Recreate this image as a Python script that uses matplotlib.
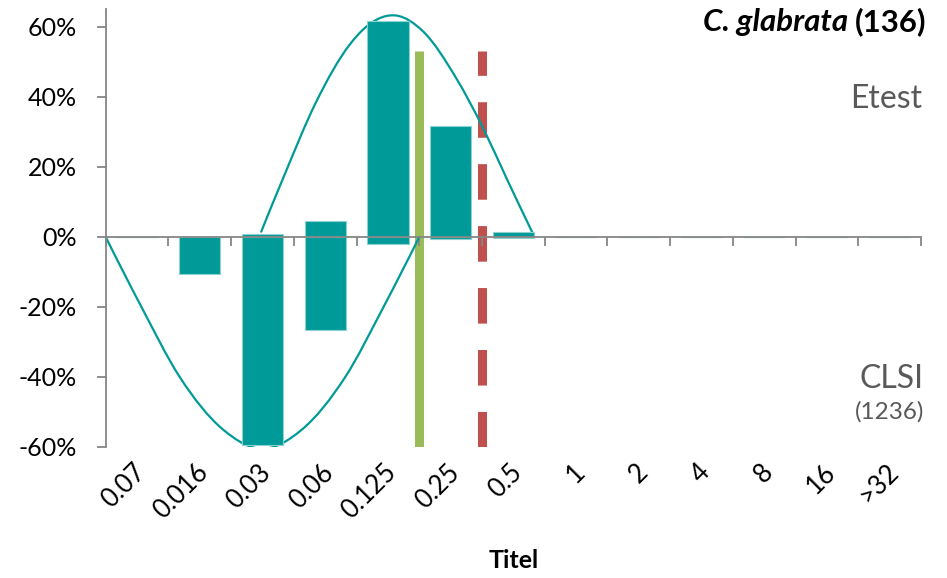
import numpy as np
import matplotlib
matplotlib.use("Agg")
import matplotlib.pyplot as plt
import matplotlib.transforms as mtransforms
from matplotlib.path import Path
from matplotlib.patches import PathPatch
from matplotlib.ticker import FuncFormatter

plt.rcParams['font.family'] = ['Lato', 'DejaVu Sans']
plt.rcParams['lines.scale_dashes'] = False

# MIC classes (mg/L) and percentage of isolates per class
categories = ['0.07', '0.016', '0.03', '0.06', '0.125', '0.25', '0.5',
              '1', '2', '4', '8', '16', '>32']
etest_pct = [0, 0, 0.7, 4.4, 61.8, 31.6, 1.5, 0, 0, 0, 0, 0, 0]
clsi_pct = [0, 10.7, 59.4, 26.7, 2.1, 0.7, 0.4, 0, 0, 0, 0, 0, 0]

# knots of the smoothed distribution outlines (category position, %)
etest_curve_x = [1.98, 2.33, 2.86, 3.39, 3.66, 4.14, 4.56, 5.09, 5.52, 5.89, 6.31]
etest_curve_y = [1.5, 16.8, 38.7, 54.9, 60.1, 63.2, 58.7, 45.3, 31.0, 16.8, 1.0]
clsi_curve_x = [-0.5, 0.07, 0.68, 1.37, 2.0, 2.63, 3.32, 3.93, 4.5]
clsi_curve_y = [0, -20, -40, -55, -60.5, -55, -40, -20, 0]

# reference lines (category-boundary position) and their extent in %
ecv_pos = 4.5
breakpoint_pos = 5.5
ref_line_range = (-60, 53)

title_species = 'C. glabrata'
title_count = '(136)'

TEAL = '#009A98'
TEAL_EDGE = '#8ED2CF'
GREEN = '#9BBB59'
RED = '#C0504D'
AXIS_GRAY = '#868686'
TEXT_GRAY = '#595959'


def smooth_path(xs, ys):
    """Piecewise cubic Hermite curve y(x) through the knots, as Bezier segments."""
    xs = np.asarray(xs, float)
    ys = np.asarray(ys, float)
    h = np.diff(xs)
    d = np.diff(ys) / h
    m = np.empty_like(ys)
    m[1:-1] = (h[:-1] * d[1:] + h[1:] * d[:-1]) / (h[:-1] + h[1:])
    # end slopes from a quadratic through the three outer knots
    m[0] = d[0] + (d[0] - d[1]) * h[0] / (h[0] + h[1])
    m[-1] = d[-1] + (d[-1] - d[-2]) * h[-1] / (h[-1] + h[-2])
    verts = [(xs[0], ys[0])]
    codes = [Path.MOVETO]
    for i in range(len(xs) - 1):
        verts += [(xs[i] + h[i] / 3, ys[i] + m[i] * h[i] / 3),
                  (xs[i + 1] - h[i] / 3, ys[i + 1] - m[i + 1] * h[i] / 3),
                  (xs[i + 1], ys[i + 1])]
        codes += [Path.CURVE4] * 3
    return Path(verts, codes)


fig = plt.figure(figsize=(9.47, 5.78), dpi=100)
ax = fig.add_axes([105.7 / 947, 1 - 447 / 578, (921 - 105.7) / 947, (447 - 9.3) / 578])

x = np.arange(len(categories))
ax.set_xlim(-0.5, len(categories) - 0.5)
ax.set_ylim(-60, 65)

# reference lines
ax.plot([ecv_pos, ecv_pos], ref_line_range, color=GREEN, lw=6.5,
        solid_capstyle='butt', zorder=1.5)
ax.plot([breakpoint_pos, breakpoint_pos], ref_line_range, color=RED, lw=6.5,
        dashes=(25.6, 19.0), dash_capstyle='butt', zorder=1.5)

# distribution outlines
for cx, cy in [(etest_curve_x, etest_curve_y), (clsi_curve_x, clsi_curve_y)]:
    ax.add_patch(PathPatch(smooth_path(cx, cy), facecolor='none', edgecolor=TEAL,
                           lw=1.6, zorder=1.8, capstyle='round'))

# bars: Etest upward, CLSI downward
ax.bar(x, etest_pct, width=0.66, color=TEAL, edgecolor=TEAL_EDGE, lw=0.8, zorder=2)
ax.bar(x, [-v for v in clsi_pct], width=0.66, color=TEAL, edgecolor=TEAL_EDGE,
       lw=0.8, zorder=2)

# axes styling
for side in ['top', 'right']:
    ax.spines[side].set_visible(False)
ax.spines['left'].set_color(AXIS_GRAY)
ax.spines['left'].set_linewidth(1.3)
ax.spines['bottom'].set_position(('data', 0))
ax.spines['bottom'].set_color(AXIS_GRAY)
ax.spines['bottom'].set_linewidth(1.3)
ax.spines['bottom'].set_zorder(3)

ax.set_yticks(np.arange(-60, 61, 20))
ax.yaxis.set_major_formatter(FuncFormatter(lambda v, _: f"{v:.0f}%"))
ax.tick_params(axis='y', length=6.5, width=1.3, color=AXIS_GRAY, pad=14,
               labelsize=18, labelcolor='black')

ax.set_xticks(np.arange(-0.5, len(categories), 1.0))
ax.set_xticklabels([])
ax.tick_params(axis='x', length=6.5, width=1.3, color=AXIS_GRAY, direction='out')
ax.set_xlabel('Titel', fontsize=18, fontweight='bold')
ax.xaxis.set_label_coords(0.5, -(549 - 447) / 437.7)

# category labels along the bottom of the plot area
sec = ax.secondary_xaxis('bottom')
sec.spines['bottom'].set_visible(False)
sec.set_xticks(x)
sec.set_xticklabels(categories)
sec.tick_params(length=0, pad=9, labelsize=18.5)
shift = mtransforms.ScaledTranslation(-4 / 100, 0, fig.dpi_scale_trans)
for lbl in sec.get_xticklabels():
    lbl.set_rotation(45)
    lbl.set_ha('right')
    lbl.set_rotation_mode('anchor')
    lbl.set_transform(lbl.get_transform() + shift)

# annotations
fig.text(922 / 947, 1 - 108 / 578, 'Etest', fontsize=23, color=TEXT_GRAY,
         ha='right', va='baseline')
fig.text(923 / 947, 1 - 388 / 578, 'CLSI', fontsize=23, color=TEXT_GRAY,
         ha='right', va='baseline')
fig.text(924 / 947, 1 - 419 / 578, '(1236)', fontsize=17.5, color=TEXT_GRAY,
         ha='right', va='baseline')

renderer = fig.canvas.get_renderer()
t_count = fig.text(926 / 947, 1 - 31 / 578, title_count, fontsize=22.5,
                   fontweight='bold', ha='right', va='baseline')
bb = t_count.get_window_extent(renderer)
fig.text((bb.x0 - 6) / 947, 1 - 31 / 578, title_species, fontsize=22.5,
         fontweight='bold', style='italic', ha='right', va='baseline')

fig.savefig('out.png', dpi=100)
